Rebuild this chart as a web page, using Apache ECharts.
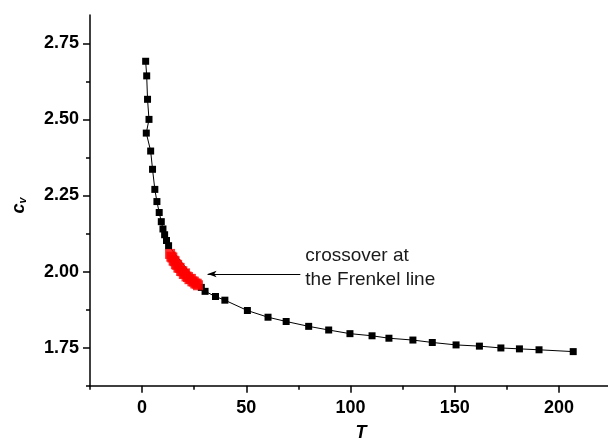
<!DOCTYPE html>
<html>
<head>
<meta charset="utf-8">
<script src="https://cdn.jsdelivr.net/npm/echarts@6/dist/echarts.min.js"></script>
<style>html,body{margin:0;padding:0;background:#fff}#c{width:608px;height:440px}</style>
</head>
<body>
<div id="c"></div>
<script>
// ---- data ----
const blackT  = [1.7, 2.2, 2.6, 3.3, 2.0, 4.1, 5.0, 6.1, 7.1, 8.2, 9.2, 10.0, 10.8, 11.7, 12.7, 28.4, 30.2, 35.2, 39.7, 50.5, 60.4, 69.1, 79.9, 89.5, 99.7, 110.3, 118.4, 129.9, 139.2, 150.6, 161.8, 172.1, 181.0, 190.4, 206.8];
const blackCv = [2.691, 2.643, 2.566, 2.500, 2.455, 2.396, 2.336, 2.270, 2.230, 2.194, 2.164, 2.140, 2.121, 2.102, 2.085, 1.948, 1.935, 1.918, 1.906, 1.872, 1.850, 1.836, 1.820, 1.808, 1.796, 1.789, 1.781, 1.775, 1.767, 1.759, 1.755, 1.749, 1.746, 1.743, 1.737];
const redT  = [13.4, 14.0, 14.5, 15.1, 15.6, 16.2, 16.8, 17.4, 18.0, 18.7, 19.3, 20.0, 20.6, 21.3, 22.0, 22.7, 23.4, 24.1, 24.8, 25.5, 26.2, 26.8];
const redCv = [2.058, 2.049, 2.046, 2.036, 2.034, 2.024, 2.022, 2.013, 2.012, 2.002, 2.001, 1.992, 1.994, 1.984, 1.982, 1.975, 1.976, 1.968, 1.967, 1.961, 1.960, 1.955];
const xMajorTicks = [0, 50, 100, 150, 200];
const xMinorTicks = [-25, 25, 75, 125, 175, 225];
const yMajorTicks = [1.75, 2.00, 2.25, 2.50, 2.75];
const yMinorTicks = [1.625, 1.875, 2.125, 2.375, 2.625];
const arrowFrom = [75.9, 1.992];
const arrowTo = [31.4, 1.992];
const annotText = ['crossover at', 'the Frenkel line'];
const annotAt = [78.3, 2.052];

const FONT = 'Liberation Sans, Arial, sans-serif';
const xMin = -25, xMax = 235, yMin = 1.625, yMax = 2.843;

const chart = echarts.init(document.getElementById('c'), null, {renderer: 'canvas'});
const axisLine = {show: true, onZero: false, lineStyle: {color: '#000', width: 1.5}};
const option = {
  animation: false,
  backgroundColor: '#fff',
  grid: {left: 90, top: 15, width: 542, height: 370.7, containLabel: false, outerBoundsMode: 'none'},
  xAxis: [{
    type: 'value', min: xMin, max: xMax,
    axisLine: axisLine,
    splitLine: {show: false},
    axisTick: {show: true, length: 7, customValues: xMajorTicks, lineStyle: {color: '#000', width: 1.5}},
    axisLabel: {customValues: xMajorTicks, margin: 13, color: '#000', fontSize: 18, fontWeight: 'bold', fontFamily: FONT,
      formatter: v => String(v)},
    name: 'T', nameLocation: 'middle', nameGap: 38,
    nameTextStyle: {color: '#000', fontSize: 18, fontWeight: 'bold', fontStyle: 'italic', fontFamily: FONT}
  }, {
    type: 'value', min: xMin, max: xMax, position: 'bottom',
    axisLine: {show: false, onZero: false}, splitLine: {show: false},
    axisTick: {show: true, length: 4, customValues: xMinorTicks, lineStyle: {color: '#000', width: 1.5}},
    axisLabel: {show: false}
  }],
  yAxis: [{
    type: 'value', min: yMin, max: yMax,
    axisLine: axisLine,
    splitLine: {show: false},
    axisTick: {show: true, length: 7, customValues: yMajorTicks, lineStyle: {color: '#000', width: 1.5}},
    axisLabel: {customValues: yMajorTicks, margin: 11, color: '#000', fontSize: 18, fontWeight: 'bold', fontFamily: FONT,
      formatter: v => v.toFixed(2)},
    name: '{c|c}{v|v}', nameLocation: 'middle', nameRotate: 90, nameGap: 62,
    nameTextStyle: {
      padding: [0, 10, 0, 0],
      rich: {
        c: {fontSize: 18, fontWeight: 'bold', fontStyle: 'italic', fontFamily: FONT, color: '#000', verticalAlign: 'bottom'},
        v: {fontSize: 11, fontWeight: 'bold', fontStyle: 'italic', fontFamily: FONT, color: '#000', verticalAlign: 'bottom'}
      }
    }
  }, {
    type: 'value', min: yMin, max: yMax, position: 'left',
    axisLine: {show: false, onZero: false}, splitLine: {show: false},
    axisTick: {show: true, length: 4, customValues: yMinorTicks, lineStyle: {color: '#000', width: 1.5}},
    axisLabel: {show: false}
  }],
  series: [{
    type: 'line', xAxisIndex: 0, yAxisIndex: 0,
    data: blackT.map((t, i) => [t, blackCv[i]]),
    symbol: 'rect', symbolSize: 7, showSymbol: true,
    itemStyle: {color: '#000'},
    lineStyle: {color: '#000', width: 1},
    z: 2,
    markLine: {
      silent: true, animation: false,
      symbol: ['none', 'arrow'], symbolSize: [5, 9],
      lineStyle: {color: '#000', width: 1, type: 'solid'},
      label: {show: false},
      data: [[{coord: arrowFrom}, {coord: arrowTo}]]
    }
  }, {
    type: 'scatter', xAxisIndex: 0, yAxisIndex: 0,
    data: redT.map((t, i) => [t, redCv[i]]),
    symbol: 'rect', symbolSize: 10,
    itemStyle: {color: '#ff0000'},
    z: 3
  }]
};
chart.setOption(option);
const p = chart.convertToPixel({xAxisIndex: 0, yAxisIndex: 0}, annotAt);
chart.setOption({
  graphic: [{
    type: 'text', left: p[0], top: p[1] - 12,
    style: {text: annotText.join('\n'), fill: '#1a1a1a', font: '19px ' + FONT, lineHeight: 24}
  }]
});
</script>
</body>
</html>
